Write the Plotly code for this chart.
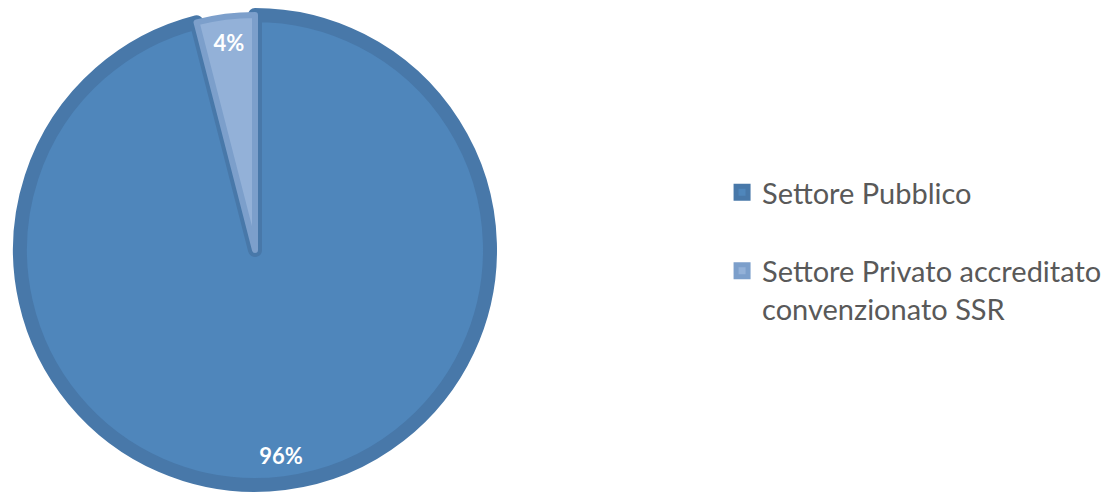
import textwrap
import plotly.graph_objects as go

# ---- data ----
categories = ["Settore Pubblico", "Settore Privato accreditato convenzionato SSR"]
values = [96, 4]
fill_colors = ["#4F86BB", "#93B1D8"]
edge_colors = ["#4878A9", "#7C9FCB"]
edge_widths = [14, 6]

# legend labels: wrap long names; one-line names get an empty second line for spacing
def legend_label(name, width=27):
    lines = textwrap.wrap(name, width)
    if len(lines) == 1:
        lines.append(" ")
    return "<br>".join(lines)

labels = [legend_label(c) for c in categories]

W, H = 1118, 492
OFF = 8  # page body margin
cx, cy, r = 255 - OFF, 250 - OFF, 235  # pie centre / path radius in figure pixels
dom = dict(x=[(cx - r) / W, (cx + r) / W], y=[(H - cy - r) / H, (H - cy + r) / H])

fig = go.Figure()
fig.add_trace(
    go.Pie(
        labels=labels,
        values=values,
        sort=False,
        direction="clockwise",
        rotation=0,
        marker=dict(colors=fill_colors, line=dict(color=edge_colors, width=edge_widths)),
        textinfo="none",
        domain=dom,
        hoverinfo="label+percent",
    )
)
# transparent ring carrying the percentage labels near the outer edge
fig.add_trace(
    go.Pie(
        labels=labels,
        values=values,
        sort=False,
        direction="clockwise",
        rotation=0,
        hole=0.76,
        marker=dict(colors=["rgba(0,0,0,0)"] * len(values), line=dict(width=0)),
        texttemplate="%{percent:.0%}",
        textposition="inside",
        insidetextorientation="horizontal",
        textfont=dict(family="Lato", size=22, color="white", weight="bold"),
        domain=dom,
        showlegend=False,
        hoverinfo="skip",
    )
)

fig.update_layout(
    width=W,
    height=H,
    margin=dict(l=0, r=0, t=0, b=0),
    paper_bgcolor="white",
    plot_bgcolor="white",
    showlegend=True,
    legend=dict(
        x=0.6387,
        y=0.677,
        xanchor="left",
        yanchor="top",
        valign="top",
        font=dict(family="Lato", size=29, color="#595959"),
        bgcolor="rgba(0,0,0,0)",
    ),
)

fig.write_html("out.html")
